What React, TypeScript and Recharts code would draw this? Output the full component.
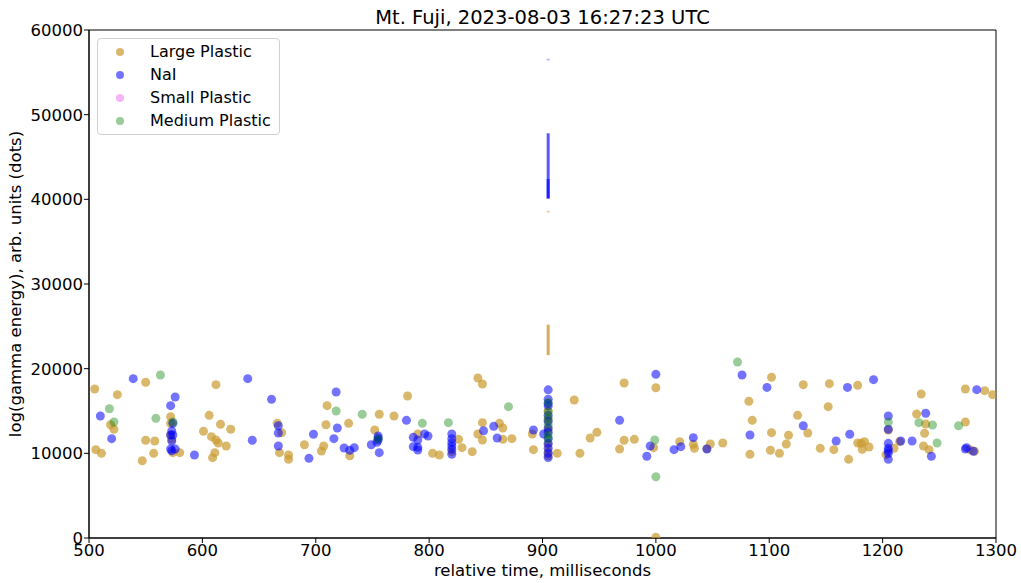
import { ScatterChart, Scatter, XAxis, YAxis, ReferenceArea, ReferenceLine } from 'recharts'

// [relative time ms, energy] pairs
const largePlastic: [number, number][] = [
  [505, 17600], [506, 10430], [511, 10000], [519, 13380], [522, 12840], [525, 16930], [547, 9130], [550, 18390],
  [550, 11540], [557, 10000], [558, 11460], [572, 14330], [572, 13540], [572, 12170], [573, 11650], [574, 10080],
  [580, 10080], [601, 12600], [606, 14490], [608, 11970], [609, 9490], [611, 10080], [612, 18110], [612, 11570],
  [614, 11220], [616, 13430], [621, 10870], [625, 12840], [666, 13540], [670, 12440], [668, 10080], [676, 9800],
  [676, 9290], [690, 11020], [705, 10280], [707, 10870], [709, 13380], [710, 15630], [729, 13540], [730, 9720],
  [752, 12760], [756, 14610], [769, 14410], [781, 16770], [790, 12280], [803, 10000], [809, 9800], [820, 10200],
  [826, 11650], [829, 10670], [838, 10200], [843, 18900], [847, 18190], [847, 13620], [843, 12280], [847, 11570],
  [862, 13540], [865, 12990], [865, 11650], [873, 11730], [891, 12280], [892, 10430],
  [905, 15000], [905, 14000], [905, 12800], [905, 11000], [905, 10200], [905, 9700],
  [913, 10000], [928, 16300], [933, 10000], [942, 11810], [948, 12480], [972, 18310], [972, 11540], [981, 11650],
  [968, 10510], [1000, 17750], [998, 10670], [1000, 80], [1021, 11380], [1033, 11060], [1034, 10590], [1045, 10550],
  [1048, 11100], [1059, 11220], [1082, 16150], [1085, 13900], [1083, 9880], [1102, 18980], [1102, 12440], [1101, 10360],
  [1109, 10000], [1115, 11100], [1117, 12130], [1125, 14490], [1130, 18110], [1134, 12400], [1145, 10590], [1153, 18230],
  [1152, 15510], [1157, 10430], [1178, 18030], [1170, 9290], [1178, 11220], [1184, 11380], [1181, 11180], [1182, 10470],
  [1188, 10750], [1205, 12760], [1203, 9840], [1210, 10590], [1215, 11380], [1234, 17010], [1230, 14650], [1238, 13460],
  [1237, 12360], [1236, 10870], [1241, 10430], [1273, 13700], [1273, 17600], [1290, 17400], [1297, 16930], [1277, 10430],
  [1281, 10240],
]

const nai: [number, number][] = [
  [510, 14410], [520, 11730], [539, 18820], [572, 15630], [576, 16650], [574, 13540], [573, 12640], [572, 12170],
  [574, 12170], [573, 11460], [572, 10510], [576, 10510], [573, 10300], [593, 9800], [640, 18820], [644, 11540],
  [661, 16380], [667, 13260], [667, 12400], [667, 10870], [694, 9410], [698, 12250], [718, 17240], [719, 12990],
  [716, 11730], [725, 10630], [730, 10360], [734, 10670], [755, 12050], [755, 11800], [755, 11570], [749, 11020],
  [754, 11300], [756, 10080], [780, 13900], [786, 11890], [790, 11570], [796, 12280], [799, 12050], [786, 10790],
  [790, 10710], [790, 10390], [820, 12280], [820, 11730], [820, 11260], [820, 10870], [820, 10470], [820, 9880],
  [848, 12670], [857, 13190], [860, 11810], [892, 12760], [901, 12280],
  [905, 17500], [905, 16400], [905, 15900], [905, 15600], [905, 14500], [905, 13800], [905, 13000], [905, 12500],
  [905, 11800], [905, 11200], [905, 10600], [905, 10000], [905, 9500],
  [968, 13900], [1000, 19330], [995, 10870], [992, 9650], [1022, 10790], [1016, 10430], [1033, 11850], [1045, 10510],
  [1076, 19250], [1083, 12170], [1098, 17790], [1130, 13260], [1159, 11460], [1169, 17790], [1171, 12250], [1192, 18700],
  [1205, 14410], [1205, 12840], [1205, 11180], [1205, 10590], [1205, 10310], [1205, 10000], [1205, 9290], [1216, 11460],
  [1226, 11460], [1238, 14730], [1243, 9650], [1283, 17520], [1273, 10510], [1274, 10670], [1280, 10240],
]

const smallPlastic: [number, number][] = []

const mediumPlastic: [number, number][] = [
  [518, 15270], [522, 13700], [563, 19250], [559, 14130], [574, 13700], [718, 15000], [741, 14610], [755, 11700],
  [794, 13540], [817, 13620], [870, 15510],
  [905, 16000], [905, 14900], [905, 14200], [905, 13400], [905, 12200], [905, 11700],
  [999, 11570], [1000, 7240], [1072, 20790], [1205, 13700], [1232, 13620], [1244, 13350], [1248, 11220], [1267, 13260],
]

// dense stacks at t=905 that show up as vertical strokes: [x, yFrom, yTo, opacity]
const naiStrokes: [number, number, number, number][] = [
  [905, 40100, 47800, 0.65],
  [905, 40100, 42400, 0.65],
  [905, 56400, 56600, 0.3],
]
const plasticStrokes: [number, number, number, number][] = [
  [905, 21600, 25200, 0.8],
  [905, 38450, 38650, 0.5],
]

const xTicks = [500, 600, 700, 800, 900, 1000, 1100, 1200, 1300]
const yTicks = [0, 10000, 20000, 30000, 40000, 50000, 60000]

const series = [
  { name: 'Large Plastic', data: largePlastic, color: '#c99a2e', opacity: 0.7 },
  { name: 'NaI', data: nai, color: '#0000ff', opacity: 0.55 },
  { name: 'Small Plastic', data: smallPlastic, color: '#ee82ee', opacity: 0.6 },
  { name: 'Medium Plastic', data: mediumPlastic, color: '#008000', opacity: 0.4 },
]

const font = 'DejaVu Sans, sans-serif'

export default function App() {
  const tick = { fill: '#000', fontSize: 16.5, fontFamily: font }

  return (
    <div style={{ position: 'absolute', left: 0, top: 0, width: 1021, height: 583, background: '#fff', fontFamily: font }}>
      <ScatterChart width={1021} height={583} margin={{ top: 30, right: 25, bottom: 0, left: 0 }}>
        <XAxis
          type="number"
          dataKey="x"
          domain={[500, 1300]}
          ticks={xTicks}
          allowDataOverflow
          height={45}
          tick={tick}
          tickSize={5}
          tickMargin={1}
          stroke="#000"
          label={{ value: 'relative time, milliseconds', position: 'insideBottom', offset: 7, fill: '#000', fontSize: 16.5, fontFamily: font }}
        />
        <YAxis
          type="number"
          dataKey="y"
          domain={[0, 60000]}
          ticks={yTicks}
          allowDataOverflow
          width={89}
          tick={tick}
          tickSize={5}
          tickMargin={1}
          stroke="#000"
          label={{
            value: 'log(gamma energy), arb. units (dots)',
            angle: -90,
            position: 'insideLeft',
            offset: 15,
            fill: '#000',
            fontSize: 16.5,
            fontFamily: font,
            style: { textAnchor: 'middle' },
          }}
        />
        <ReferenceArea x1={500} x2={1300} y1={0} y2={60000} fill="none" stroke="#000" strokeWidth={1} />
        {plasticStrokes.map(([x, y1, y2, o], i) => (
          <ReferenceLine key={`p${i}`} segment={[{ x, y: y1 }, { x, y: y2 }]} stroke="#c99a2e" strokeOpacity={o} strokeWidth={3} />
        ))}
        {naiStrokes.map(([x, y1, y2, o], i) => (
          <ReferenceLine key={`n${i}`} segment={[{ x, y: y1 }, { x, y: y2 }]} stroke="#0000ff" strokeOpacity={o} strokeWidth={3} />
        ))}
        {series.map((s) => (
          <Scatter
            key={s.name}
            name={s.name}
            data={s.data.map(([x, y]) => ({ x, y }))}
            isAnimationActive={false}
            shape={(p: any) => <circle cx={p.cx} cy={p.cy} r={4.5} fill={s.color} fillOpacity={s.opacity} />}
          />
        ))}
      </ScatterChart>

      <div style={{ position: 'absolute', left: 0, top: 6, width: 1085, textAlign: 'center', fontSize: 19.5, color: '#000' }}>
        Mt. Fuji, 2023-08-03 16:27:23 UTC
      </div>

      <div
        style={{
          position: 'absolute',
          left: 97,
          top: 38,
          width: 183,
          height: 97,
          border: '1px solid #d0d0d0',
          borderRadius: 4,
          background: 'rgba(255,255,255,0.8)',
          boxSizing: 'border-box',
        }}
      >
        {series.map((s, i) => (
          <div key={s.name} style={{ position: 'absolute', left: 0, top: 1 + i * 23, height: 23, display: 'flex', alignItems: 'center' }}>
            <svg width={50} height={23} style={{ display: 'block' }}>
              <circle cx={22} cy={12} r={4} fill={s.color} fillOpacity={s.opacity} />
            </svg>
            <span style={{ fontSize: 16, color: '#000', whiteSpace: 'nowrap', marginLeft: 2 }}>{s.name}</span>
          </div>
        ))}
      </div>
    </div>
  )
}
